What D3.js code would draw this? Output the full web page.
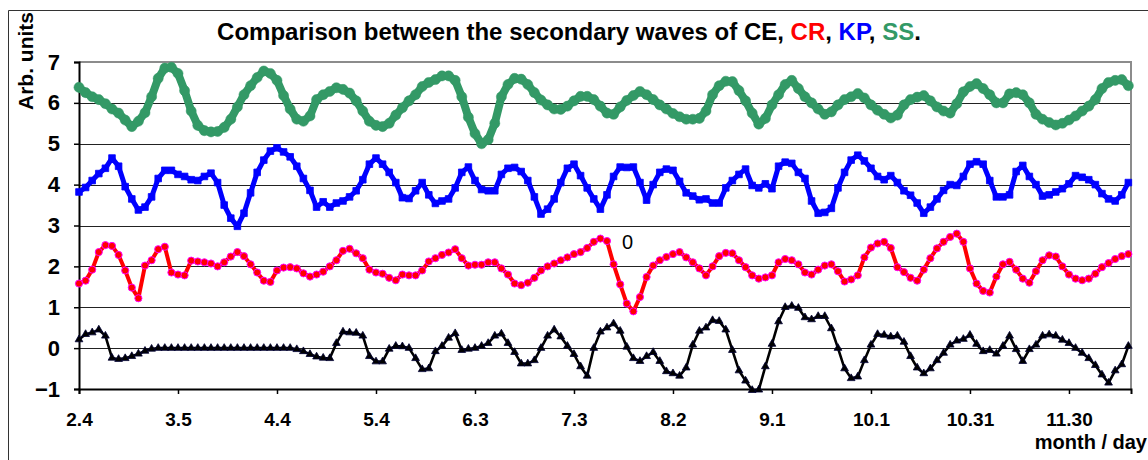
<!DOCTYPE html>
<html><head><meta charset="utf-8">
<script src="https://cdn.jsdelivr.net/npm/d3@7"></script>
<style>body{margin:0;background:#fff} svg{display:block}</style>
</head><body>
<svg id="c" width="1148" height="460"></svg>
<script>
const tickLabels = ["2.4","3.5","4.4","5.4","6.3","7.3","8.2","9.1","10.1","10.31","11.30"];
const tickDays = [0,30,60,90,120,150,180,210,240,270,300];
const yTicks = [-1,0,1,2,3,4,5,6,7];
const dayStep = 2;
const ss = [6.38,6.25,6.15,6.08,5.98,5.85,5.75,5.58,5.42,5.55,
5.76,6.15,6.6,6.85,6.87,6.72,6.3,5.8,5.45,5.32,
5.29,5.3,5.4,5.6,5.9,6.2,6.42,6.62,6.78,6.72,
6.55,6.18,5.85,5.6,5.55,5.68,6.08,6.2,6.28,6.37,
6.33,6.24,6.05,5.8,5.55,5.45,5.42,5.5,5.7,5.88,
6.05,6.2,6.4,6.5,6.57,6.66,6.66,6.55,6.15,5.65,
5.25,5.0,5.1,5.5,6.15,6.45,6.6,6.58,6.45,6.25,
6.07,5.95,5.85,5.84,5.92,6.05,6.16,6.16,6.08,5.92,
5.75,5.72,5.9,6.06,6.18,6.28,6.2,6.08,5.95,5.85,
5.74,5.66,5.6,5.6,5.62,5.8,6.2,6.42,6.53,6.52,
6.3,6.05,5.75,5.48,5.62,5.95,6.2,6.45,6.55,6.35,
6.15,6.0,5.85,5.72,5.78,5.95,6.08,6.15,6.23,6.12,
5.95,5.82,5.72,5.63,5.7,5.95,6.08,6.14,6.18,6.05,
5.9,5.8,5.75,5.98,6.27,6.4,6.47,6.35,6.2,6.0,
6.0,6.22,6.25,6.2,6.0,5.72,5.6,5.52,5.46,5.5,
5.58,5.68,5.8,5.92,6.08,6.35,6.5,6.55,6.57,6.42];
const kp = [3.82,3.93,4.1,4.27,4.4,4.65,4.45,3.95,3.65,3.38,
3.45,3.7,4.15,4.35,4.35,4.25,4.2,4.12,4.1,4.2,
4.28,4.05,3.5,3.18,2.98,3.3,3.8,4.3,4.6,4.82,
4.9,4.8,4.68,4.45,4.15,3.86,3.45,3.58,3.45,3.55,
3.6,3.7,3.85,4.12,4.5,4.65,4.5,4.3,4.05,3.68,
3.66,3.85,4.05,3.75,3.54,3.6,3.65,3.92,4.3,4.43,
4.1,3.88,3.85,3.85,4.25,4.4,4.42,4.32,4.1,3.7,
3.28,3.4,3.65,4.05,4.4,4.5,4.22,3.92,3.65,3.4,
3.75,4.2,4.43,4.42,4.43,4.05,3.62,4.0,4.3,4.38,
4.35,4.08,3.8,3.72,3.63,3.65,3.55,3.55,3.92,4.1,
4.25,4.38,3.98,3.92,4.02,3.9,4.45,4.55,4.52,4.3,
4.15,3.6,3.3,3.32,3.42,3.92,4.3,4.6,4.72,4.58,
4.4,4.2,4.12,4.22,4.05,3.85,3.74,3.55,3.3,3.45,
3.65,3.86,4.0,3.98,4.2,4.5,4.56,4.5,4.1,3.7,
3.7,3.75,4.32,4.47,4.2,4.0,3.72,3.75,3.82,3.9,
4.02,4.22,4.18,4.12,4.0,3.78,3.65,3.6,3.75,4.05];
const cr = [1.58,1.65,1.92,2.35,2.52,2.5,2.28,1.9,1.48,1.22,
2.02,2.15,2.42,2.48,1.85,1.8,1.78,2.14,2.12,2.1,
2.07,2.0,2.1,2.24,2.35,2.25,2.05,1.85,1.65,1.62,
1.9,1.97,1.98,1.95,1.83,1.75,1.8,1.87,2.0,2.15,
2.38,2.43,2.32,2.2,1.92,1.85,1.82,1.72,1.66,1.8,
1.78,1.78,1.9,2.12,2.2,2.28,2.34,2.42,2.2,2.02,
2.04,2.04,2.1,2.1,1.95,1.8,1.58,1.54,1.6,1.72,
1.9,2.0,2.07,2.15,2.22,2.3,2.35,2.45,2.6,2.68,
2.62,2.05,1.56,1.09,0.9,1.25,1.74,2.02,2.15,2.23,
2.3,2.35,2.22,2.1,1.95,1.78,2.0,2.25,2.33,2.32,
2.15,1.98,1.78,1.7,1.73,1.78,2.1,2.18,2.15,2.05,
1.85,1.8,1.92,2.02,2.05,1.88,1.63,1.68,1.78,2.22,
2.46,2.56,2.6,2.45,1.98,1.86,1.72,1.65,1.92,2.2,
2.44,2.6,2.72,2.8,2.6,1.95,1.58,1.4,1.36,1.75,
2.05,2.11,1.92,1.7,1.6,1.88,2.15,2.27,2.24,2.0,
1.8,1.7,1.66,1.7,1.82,1.98,2.08,2.18,2.25,2.3];
const ce = [0.21,0.34,0.38,0.45,0.3,-0.24,-0.27,-0.25,-0.2,-0.14,
-0.07,-0.02,0,0,0,0,0,0,0,0,
0,0,0,0,0,0,0,0,0,0,
0,0,0,-0.03,-0.08,-0.15,-0.21,-0.24,-0.25,0.12,
0.4,0.38,0.37,0.3,-0.2,-0.33,-0.33,-0.02,0.05,0.04,
0.0,-0.25,-0.52,-0.5,-0.08,0.05,0.25,0.36,-0.05,-0.02,
0.0,0.05,0.12,0.3,0.35,0.12,-0.1,-0.38,-0.38,-0.3,
0.0,0.3,0.45,0.28,0.05,-0.15,-0.45,-0.68,0.0,0.4,
0.5,0.6,0.42,0.03,-0.25,-0.32,-0.2,-0.1,-0.32,-0.57,
-0.62,-0.68,-0.48,0.08,0.42,0.5,0.68,0.66,0.45,-0.05,
-0.55,-0.8,-1.03,-1.02,-0.45,0.1,0.65,1.0,1.03,0.98,
0.75,0.7,0.78,0.78,0.48,0.0,-0.5,-0.74,-0.7,-0.3,
0.08,0.34,0.32,0.28,0.3,0.15,-0.2,-0.48,-0.62,-0.5,
-0.3,-0.12,0.08,0.18,0.22,0.32,0.1,-0.08,-0.05,-0.14,
0.05,0.3,-0.03,-0.32,-0.03,0.08,0.3,0.33,0.3,0.2,
0.12,0.0,-0.12,-0.25,-0.42,-0.65,-0.85,-0.55,-0.4,0.05];

const svg = d3.select("#c");
const FONT = "'Liberation Sans', Arial, sans-serif";
const L = 79, R = 1131, T = 62, B = 389;
const x = d3.scaleLinear().domain([0, 318.8]).range([L, R]);
const y = d3.scaleLinear().domain([-1, 7]).range([B, T]);

// outer border
svg.append("path").attr("d", `M8.5,460 L8.5,10.5 L1148,10.5`).attr("fill","none").attr("stroke","#333").attr("stroke-width",1);

// gridlines
svg.append("g").selectAll("line").data(yTicks.filter(v => v > -1 && v < 7)).join("line")
  .attr("x1", L).attr("x2", R).attr("y1", d => Math.round(y(d)) + 0.5).attr("y2", d => Math.round(y(d)) + 0.5)
  .attr("stroke", "#222").attr("stroke-width", 1);
// top & right frame
svg.append("path").attr("d", `M${L},${T} L${R},${T} L${R},${B}`).attr("fill","none").attr("stroke","#8c8c8c").attr("stroke-width",2);

// axes
const yAxis = d3.axisLeft(y).tickValues(yTicks).tickSize(5).tickPadding(14).tickFormat(d3.format("d"));
const gy = svg.append("g").attr("transform", `translate(${L},0)`).call(yAxis);
gy.select(".domain").attr("stroke","#000").attr("stroke-width",2);
gy.selectAll(".tick line").attr("stroke","#000").attr("stroke-width",1.5);
gy.selectAll("text").attr("font-family", FONT).attr("font-weight","bold").attr("font-size",22).attr("fill","#000");

const xAxis = d3.axisBottom(x).tickValues(tickDays).tickSize(5).tickPadding(19).tickFormat((d,i) => tickLabels[i]);
const gx = svg.append("g").attr("transform", `translate(0,${B})`).call(xAxis);
gx.select(".domain").attr("stroke","#000").attr("stroke-width",2);
gx.selectAll(".tick line").attr("stroke","#000").attr("stroke-width",1.5);
gx.selectAll("text").attr("font-family", FONT).attr("font-weight","bold").attr("font-size",19).attr("fill","#000");

// series
function drawSeries(vals, o) {
  const pts = vals.map((v,i) => [x(i*dayStep), y(v)]);
  svg.append("path").attr("d", d3.line()(pts)).attr("fill","none")
    .attr("stroke", o.line).attr("stroke-width", o.lw).attr("stroke-linejoin","round").attr("stroke-linecap","round");
  const sym = d3.symbol().type(o.type).size(o.size);
  svg.append("g").selectAll("path").data(pts).join("path")
    .attr("d", sym).attr("transform", d => `translate(${d[0]},${d[1]})`)
    .attr("fill", o.fill).attr("stroke", o.stroke).attr("stroke-width", o.sw);
}
drawSeries(ce, {line:"#000", lw:2.6, type:d3.symbolTriangle, size:26, fill:"#000", stroke:"#000033", sw:0.8});
drawSeries(cr, {line:"#ff0000", lw:4, type:d3.symbolCircle, size:40, fill:"#ff0000", stroke:"#ff00ff", sw:1});
drawSeries(kp, {line:"#0000ff", lw:5, type:d3.symbolSquare, size:44, fill:"#0000ff", stroke:"#0000ff", sw:0.8});
drawSeries(ss, {line:"#339966", lw:8, type:d3.symbolCircle, size:80, fill:"#339966", stroke:"#339966", sw:0.5});

// data label
svg.append("text").attr("x", 627.5).attr("y", 249).attr("text-anchor","middle")
  .attr("font-family", FONT).attr("font-size", 20).attr("fill","#000").text("0");

// title
const title = svg.append("text").attr("x", 569).attr("y", 40).attr("text-anchor","middle")
  .attr("font-family", FONT).attr("font-weight","bold").attr("font-size", 24).attr("fill","#000");
[["Comparison between the secondary waves of CE, ","#000"],["CR","#ff0000"],[", ","#000"],["KP","#0000ff"],[", ","#000"],["SS","#339966"],[".","#000"]]
  .forEach(([t,c]) => title.append("tspan").attr("fill", c).text(t));

// axis titles
svg.append("text").attr("transform","translate(33,61) rotate(-90)").attr("text-anchor","middle")
  .attr("font-family", FONT).attr("font-weight","bold").attr("font-size", 21).attr("fill","#000").text("Arb. units");
svg.append("text").attr("x", 1147).attr("y", 449).attr("text-anchor","end")
  .attr("font-family", FONT).attr("font-weight","bold").attr("font-size", 20).attr("fill","#000").text("month / day");
</script>
</body></html>
